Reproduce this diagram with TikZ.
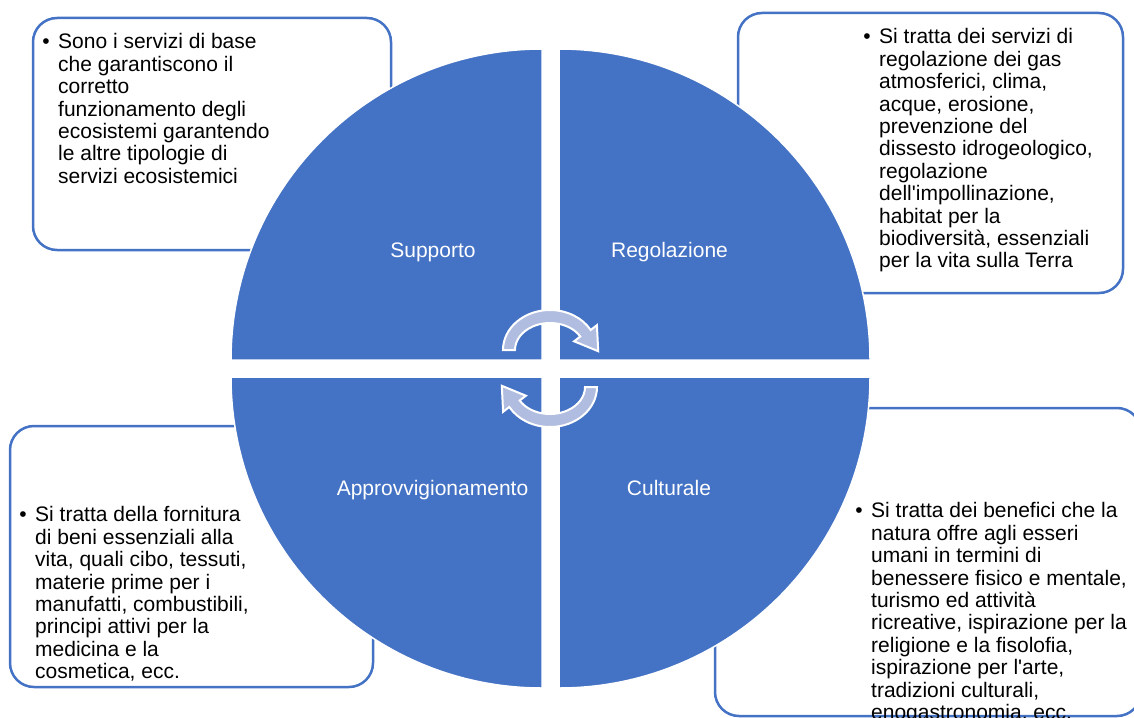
\documentclass[tikz,border=0pt]{standalone}
\usepackage{fontspec}
\setmainfont{Liberation Sans}
\definecolor{qblue}{HTML}{4472C4}
\definecolor{arrowfill}{RGB}{177,189,224}
\begin{document}
\begin{tikzpicture}[x=1pt,y=-1pt,
  box/.style={draw=qblue, line width=2.5pt, fill=white, rounded corners=24pt, inner sep=0pt, outer sep=0pt},
  quad/.style={fill=qblue, draw=white, line width=1.5pt},
  cyc/.style={fill=arrowfill, draw=white, line width=2pt, line join=miter},
  txt/.style={anchor=north west, align=left, inner sep=0pt, font=\fontsize{21}{22.4}\selectfont, text=black},
  lbl/.style={anchor=base, inner sep=0pt, font=\fontsize{21}{22.4}\selectfont, text=white}]
\useasboundingbox (0,0) rectangle (1134,717);
% boxes (behind the circle)
\node[box, minimum width=358pt, minimum height=232pt] (b1) at (212,134) {};
\node[box, minimum width=385pt, minimum height=280pt] (b2) at (930.5,153) {};
\node[box, minimum width=363pt, minimum height=261pt] (b3) at (191.5,556.5) {};
\node[box, minimum width=426pt, minimum height=308pt] (b4) at (928,562) {};
% quadrants
\draw[quad] (542,360) -- (231,360) arc[start angle=180, end angle=270, radius=311] -- cycle;
\draw[quad] (559,360) -- (559,49) arc[start angle=270, end angle=360, radius=311] -- cycle;
\draw[quad] (559,377) -- (870,377) arc[start angle=0, end angle=90, radius=311] -- cycle;
\draw[quad] (542,377) -- (542,688) arc[start angle=90, end angle=180, radius=311] -- cycle;
% cycle arrows
\begin{scope}[shift={(550,350)}]
\draw[cyc] (-47,0) arc[start angle=180, end angle=330, x radius=47, y radius=40]
  -- (46.9,-24.8) -- (48.2,1.2) -- (24.1,-8.7) -- (30.3,-13.5)
  arc[start angle=330, end angle=180, x radius=35, y radius=27] -- cycle;
\end{scope}
\begin{scope}[shift={(550,387)}, rotate=180]
\draw[cyc] (-47,0) arc[start angle=180, end angle=330, x radius=47, y radius=40]
  -- (46.9,-24.8) -- (48.2,1.2) -- (24.1,-8.7) -- (30.3,-13.5)
  arc[start angle=330, end angle=180, x radius=35, y radius=27] -- cycle;
\end{scope}
% quadrant labels
\node[lbl] (l1) at (433,257) {Supporto};
\node[lbl] (l2) at (669.5,257) {Regolazione};
\node[lbl] (l3) at (432.5,495) {Approvvigionamento};
\node[lbl] (l4) at (669,495) {Culturale};
% box texts
\node[txt] (t1) at (58,33.5) {\llap{•\hspace{8.5pt}}Sono i servizi di base\\che garantiscono il\\corretto\\funzionamento degli\\ecosistemi garantendo\\le altre tipologie di\\servizi ecosistemici};
\node[txt] (t2) at (879,28.5) {\llap{•\hspace{8.5pt}}Si tratta dei servizi di\\regolazione dei gas\\atmosferici, clima,\\acque, erosione,\\prevenzione del\\dissesto idrogeologico,\\regolazione\\dell\textquotesingle impollinazione,\\habitat per la\\biodiversità, essenziali\\per la vita sulla Terra};
\node[txt] (t3) at (35,506.5) {\llap{•\hspace{8.5pt}}Si tratta della fornitura\\di beni essenziali alla\\vita, quali cibo, tessuti,\\materie prime per i\\manufatti, combustibili,\\principi attivi per la\\medicina e la\\cosmetica, ecc.};
\node[txt] (t4) at (871,502.5) {\llap{•\hspace{8.5pt}}Si tratta dei benefici che la\\natura offre agli esseri\\umani in termini di\\benessere fisico e mentale,\\turismo ed attività\\ricreative, ispirazione per la\\religione e la fisolofia,\\ispirazione per l\textquotesingle arte,\\tradizioni culturali,\\enogastronomia, ecc.};
\end{tikzpicture}
\end{document}
